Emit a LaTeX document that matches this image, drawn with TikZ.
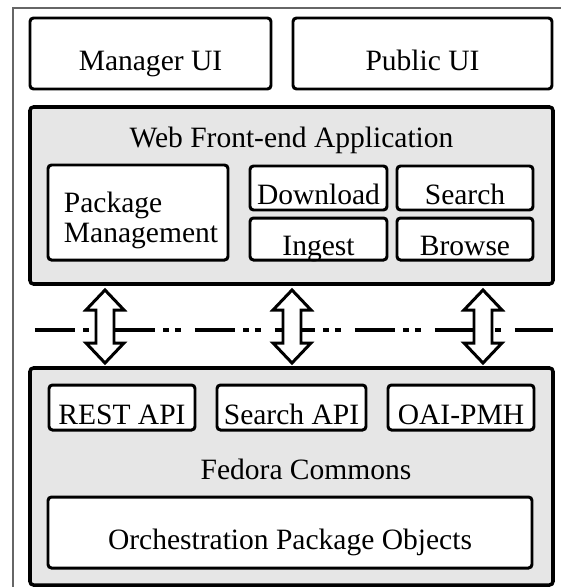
\documentclass[tikz,border=0pt]{standalone}
\usepackage{fontspec}
\setmainfont{Liberation Serif}
\definecolor{layergray}{HTML}{E6E6E6}
\tikzset{
  layer/.style={draw,rectangle,rounded corners=2pt,line width=2pt,fill=layergray},
  comp/.style={draw,rectangle,rounded corners=2pt,line width=1.7pt,fill=white,inner sep=0pt,text height=0.71cm,text depth=0.05cm},
  hollow/.style={draw,fill=white,line width=1.7pt,line join=miter},
  sep/.style={line width=1.8pt,dash pattern=on 0.8cm off 0.16cm on 0.12cm off 0.12cm on 0.12cm off 0.28cm}
}

\begin{document}
\begin{tikzpicture}[font=\fontsize{16.8}{17.1}\selectfont]
  \useasboundingbox (0,0) rectangle (11.22,-11.74);
  \draw[black!60,line width=0.6pt] (0.26,-11.74) |- (11.22,-0.16);

  \node[comp,minimum width=4.82cm,minimum height=1.42cm] (mgr) at (3.01,-1.07) {Manager UI};
  \node[comp,minimum width=5.18cm,minimum height=1.42cm] (pub) at (8.45,-1.07) {Public UI};

  \node[layer,minimum width=10.46cm,minimum height=3.54cm] (web) at (5.83,-3.91) {};
  \node[anchor=base] (webt) at (5.83,-2.94) {Web Front-end Application};
  \node[comp,minimum width=3.60cm,minimum height=1.90cm] (pkg) at (2.76,-4.25) {};
  \node[align=left] (pkgt) at (2.82,-4.40) {Package\\Management};
  \node[comp,minimum width=2.74cm,minimum height=0.88cm] (dl) at (6.37,-3.76) {Download};
  \node[comp,minimum width=2.72cm,minimum height=0.88cm] (srch) at (9.30,-3.76) {Search};
  \node[comp,minimum width=2.74cm,minimum height=0.84cm] (ing) at (6.37,-4.78) {Ingest};
  \node[comp,minimum width=2.72cm,minimum height=0.84cm] (brw) at (9.30,-4.78) {Browse};

  \draw[sep] (0.70,-6.60) -- (11.06,-6.60);
  \foreach \ax in {2.10,5.84,9.66}
    \draw[hollow] (\ax,-5.80) -- ++(0.38,-0.40) -- ++(-0.20,0) -- ++(0,-0.66) -- ++(0.20,0)
      -- ++(-0.38,-0.40) -- ++(-0.38,0.40) -- ++(0.20,0) -- ++(0,0.66) -- ++(-0.20,0) -- cycle;

  \node[layer,minimum width=10.46cm,minimum height=4.34cm] (fed) at (5.83,-9.53) {};
  \node[comp,minimum width=2.92cm,minimum height=0.90cm] (rest) at (2.44,-8.15) {REST API};
  \node[comp,minimum width=2.98cm,minimum height=0.90cm] (sapi) at (5.83,-8.15) {Search API};
  \node[comp,minimum width=2.92cm,minimum height=0.90cm] (oai) at (9.22,-8.15) {OAI-PMH};
  \node[anchor=base] (fedt) at (6.12,-9.58) {Fedora Commons};
  \node[comp,minimum width=9.68cm,minimum height=1.42cm] (orch) at (5.80,-10.65) {Orchestration Package Objects};
\end{tikzpicture}
\end{document}
